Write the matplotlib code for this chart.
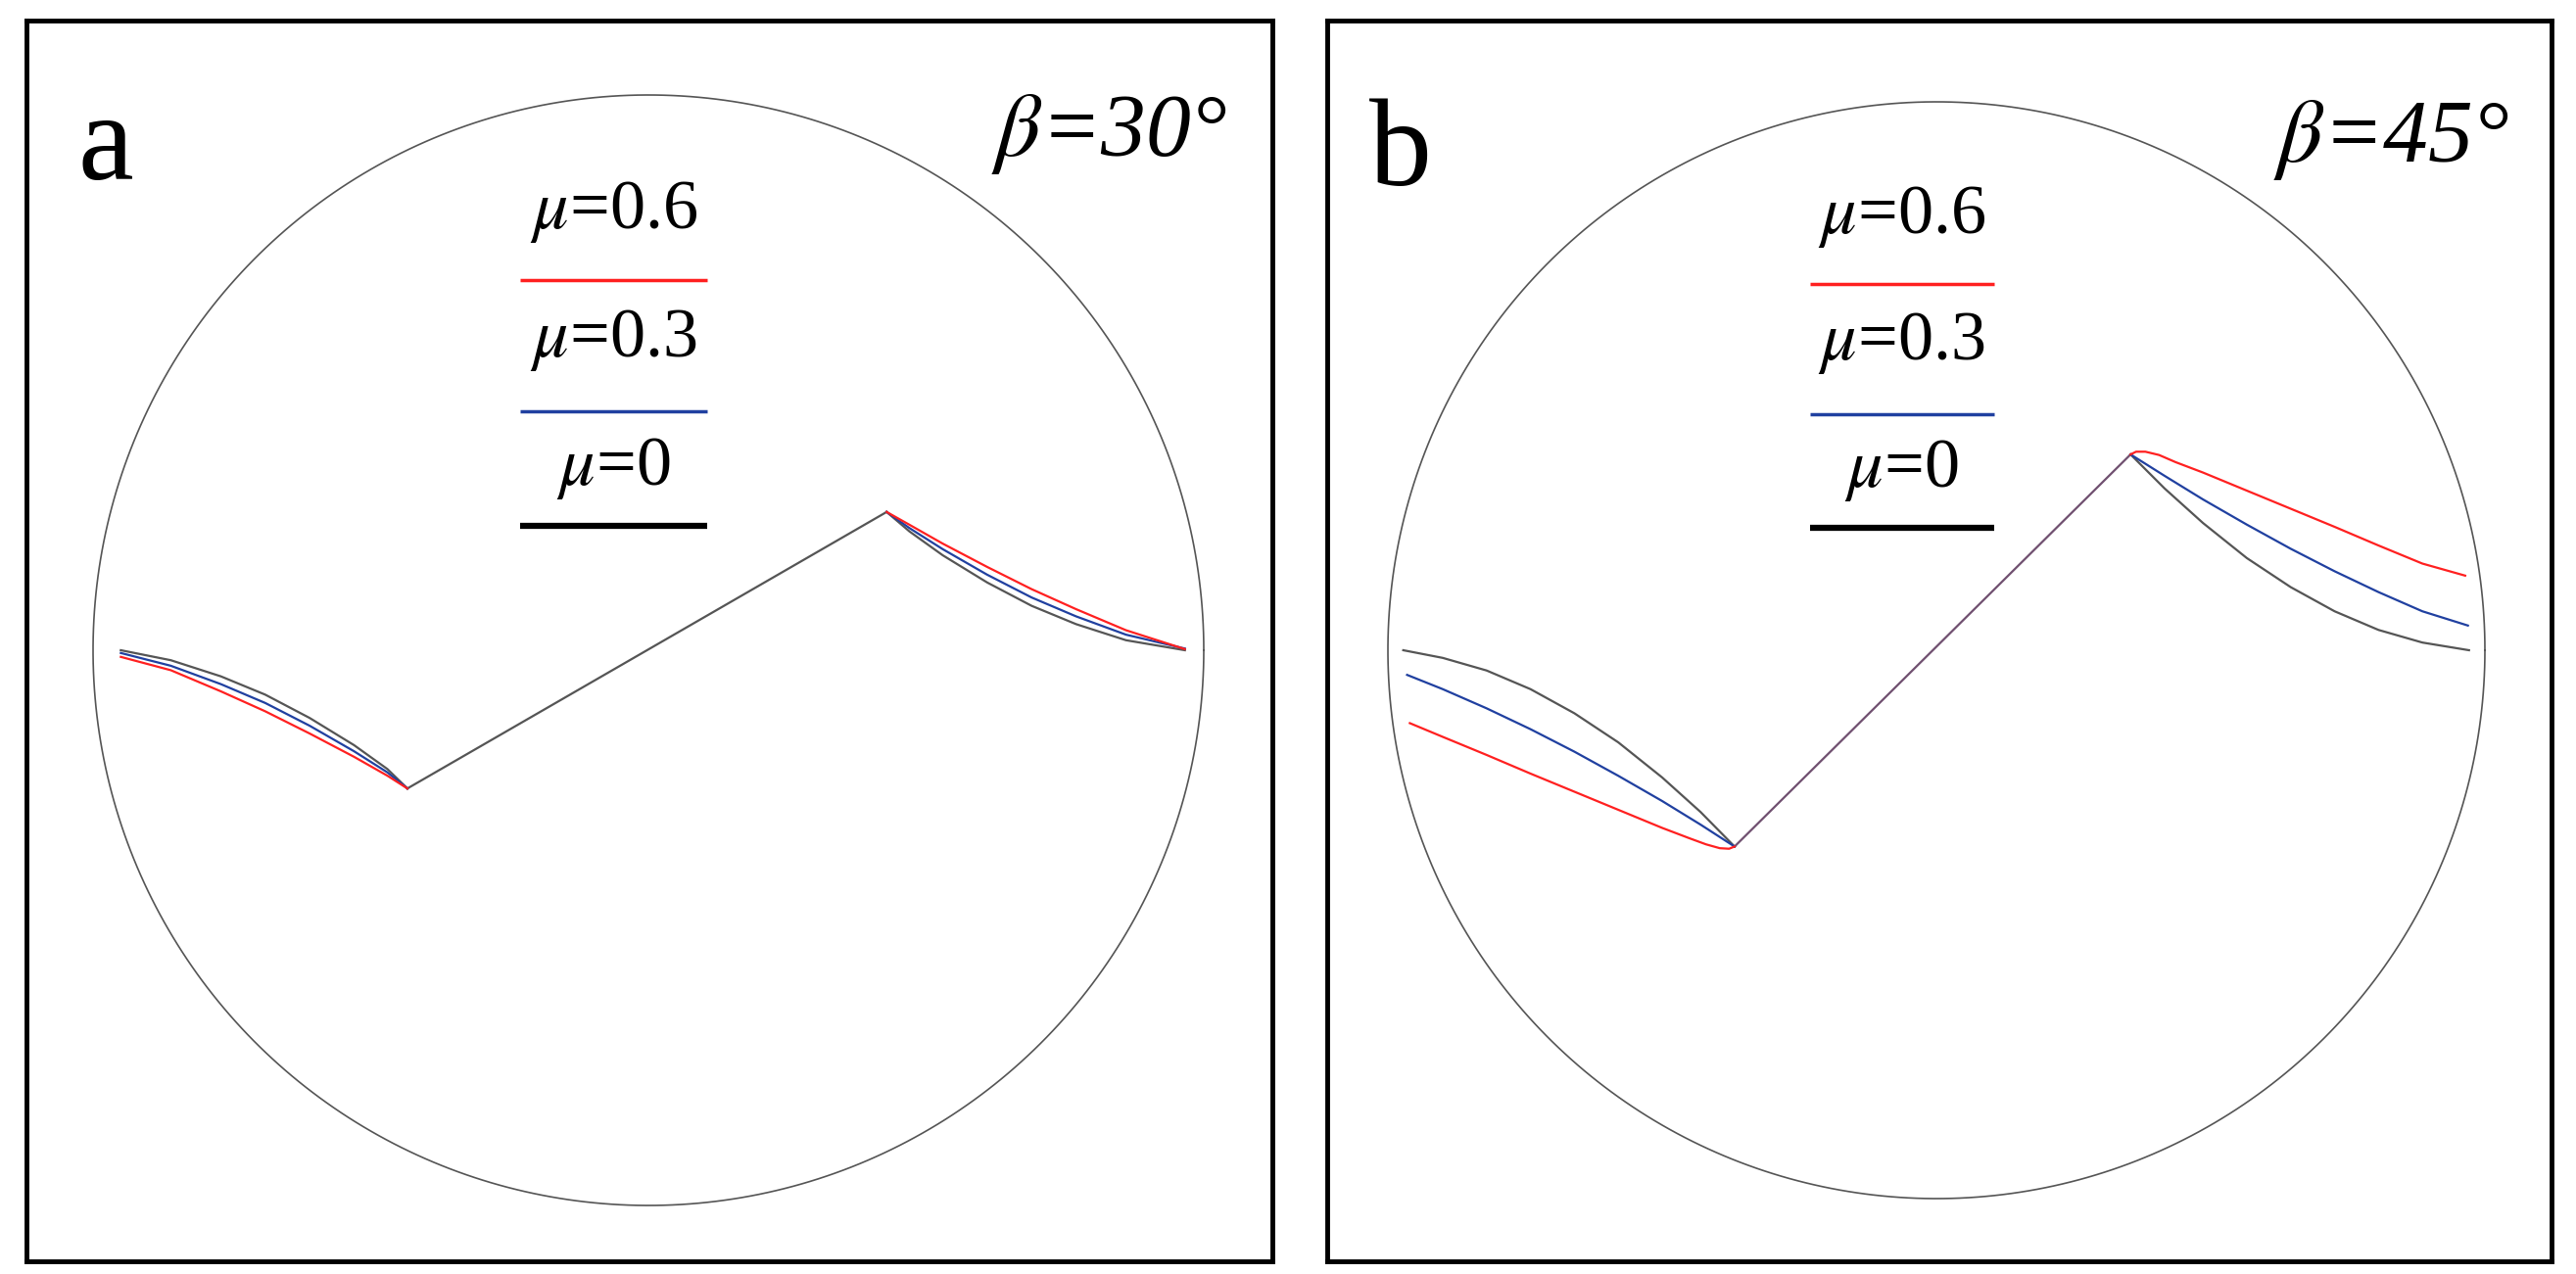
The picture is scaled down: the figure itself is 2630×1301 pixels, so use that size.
import matplotlib
matplotlib.use("Agg")
import matplotlib.pyplot as plt
import numpy as np

plt.rcParams["mathtext.fontset"] = "stix"

# ---- data (normalized to circle radius = 1, center = 0) ----
# Panel a (beta = 30 deg)
a_zig_x = [-0.434, 0.429]
a_zig_y = [-0.249, 0.249]
a_left_x = [-0.95, -0.86, -0.77, -0.69, -0.61, -0.53, -0.47, -0.434]
a_left_black = [0.0, -0.018, -0.047, -0.080, -0.122, -0.171, -0.214, -0.249]
a_left_blue = [-0.005, -0.028, -0.061, -0.095, -0.136, -0.182, -0.220, -0.249]
a_left_red = [-0.012, -0.036, -0.074, -0.110, -0.150, -0.192, -0.226, -0.249]
a_right_x = [0.429, 0.47, 0.53, 0.61, 0.69, 0.77, 0.86, 0.966]
a_right_black = [0.249, 0.214, 0.171, 0.122, 0.080, 0.047, 0.018, 0.0]
a_right_blue = [0.249, 0.220, 0.182, 0.136, 0.095, 0.061, 0.028, 0.003]
a_right_red = [0.249, 0.226, 0.192, 0.150, 0.110, 0.074, 0.036, 0.002]

# Panel b (beta = 45 deg)
b_zig_x = [-0.368, 0.354]
b_zig_y = [-0.358, 0.357]
b_left_black_x = [-0.972, -0.90, -0.82, -0.74, -0.66, -0.58, -0.50, -0.43, -0.368]
b_left_black_y = [0.0, -0.014, -0.037, -0.071, -0.115, -0.168, -0.232, -0.295, -0.358]
b_left_blue_x = [-0.965, -0.90, -0.82, -0.74, -0.66, -0.58, -0.50, -0.43, -0.368]
b_left_blue_y = [-0.045, -0.071, -0.106, -0.144, -0.185, -0.229, -0.275, -0.318, -0.358]
b_left_red_x = [-0.960, -0.90, -0.82, -0.74, -0.66, -0.58, -0.50, -0.45, -0.42, -0.395, -0.378, -0.368]
b_left_red_y = [-0.133, -0.158, -0.191, -0.225, -0.258, -0.291, -0.324, -0.343, -0.354, -0.361, -0.362, -0.358]
b_right_black_x = [0.354, 0.416, 0.486, 0.566, 0.646, 0.726, 0.806, 0.886, 0.971]
b_right_black_y = [0.357, 0.295, 0.232, 0.168, 0.115, 0.071, 0.037, 0.014, 0.0]
b_right_blue_x = [0.354, 0.416, 0.486, 0.566, 0.646, 0.726, 0.806, 0.886, 0.969]
b_right_blue_y = [0.357, 0.318, 0.275, 0.229, 0.185, 0.144, 0.106, 0.071, 0.045]
b_right_red_x = [0.354, 0.364, 0.381, 0.406, 0.436, 0.486, 0.566, 0.646, 0.726, 0.806, 0.886, 0.964]
b_right_red_y = [0.357, 0.362, 0.362, 0.356, 0.343, 0.324, 0.291, 0.258, 0.225, 0.191, 0.158, 0.136]

legend_labels = ["0.6", "0.3", "0"]
legend_colors = ["#ff2020", "#2040a0", "#000000"]
panel_letters = ["a", "b"]
panel_betas = ["30", "45"]

W, H = 2630, 1301
fig = plt.figure(figsize=(W / 100, H / 100), dpi=100)
serif = ["Liberation Serif", "DejaVu Serif"]

def make_ax(left, right, top, bottom, cx, cy, r):
    ax = fig.add_axes([left / W, 1 - bottom / H, (right - left) / W, (bottom - top) / H])
    ax.set_xlim((left - cx) / r, (right - cx) / r)
    ax.set_ylim((cy - bottom) / r, (cy - top) / r)
    ax.set_xticks([]); ax.set_yticks([])
    for s in ax.spines.values():
        s.set_linewidth(3.5); s.set_color("black")
    t = np.linspace(0, 2 * np.pi, 400)
    ax.plot(np.cos(t), np.sin(t), color="#555555", lw=1.2)
    return ax

axa = make_ax(27, 1299, 21, 1288, 662, 664, 567)
axb = make_ax(1355, 2605, 21, 1288, 1977, 664, 560)

red, blue, grey = legend_colors[0], legend_colors[1], "#555555"
lw = 1.6

# panel a
axa.plot(a_zig_x, a_zig_y, color=grey, lw=lw)
axa.plot(a_left_x, a_left_black, color=grey, lw=lw)
axa.plot(a_left_x, a_left_blue, color=blue, lw=lw)
axa.plot(a_left_x, a_left_red, color=red, lw=lw)
axa.plot(a_right_x, a_right_black, color=grey, lw=lw)
axa.plot(a_right_x, a_right_blue, color=blue, lw=lw)
axa.plot(a_right_x, a_right_red, color=red, lw=lw)

# panel b
axb.plot(b_zig_x, b_zig_y, color="#705070", lw=lw)
axb.plot(b_left_black_x, b_left_black_y, color=grey, lw=lw)
axb.plot(b_left_blue_x, b_left_blue_y, color=blue, lw=lw)
axb.plot(b_left_red_x, b_left_red_y, color=red, lw=lw)
axb.plot(b_right_black_x, b_right_black_y, color=grey, lw=lw)
axb.plot(b_right_blue_x, b_right_blue_y, color=blue, lw=lw)
axb.plot(b_right_red_x, b_right_red_y, color=red, lw=lw)

for ax, letter, beta in zip([axa, axb], panel_letters, panel_betas):
    ax.text(-0.977, 0.903, letter, fontsize=92, family=serif, ha="center", va="center")
    ax.text(0.83, 0.93, r"$\beta$=" + beta + "°", fontsize=66, family=serif,
            style="italic", ha="center", va="center")
    text_y = [0.79, 0.559, 0.328]
    line_y = [0.667, 0.43, 0.224]
    line_w = [2.5, 2.5, 4.5]
    for lab, col, ty, ly, w in zip(legend_labels, legend_colors, text_y, line_y, line_w):
        ax.text(-0.063, ty, r"$\mu$=" + lab, fontsize=52, family=serif,
                ha="center", va="center")
        ax.plot([-0.231, 0.106], [ly, ly], color=col, lw=w, solid_capstyle="butt")

fig.savefig("out.png", dpi=100)
